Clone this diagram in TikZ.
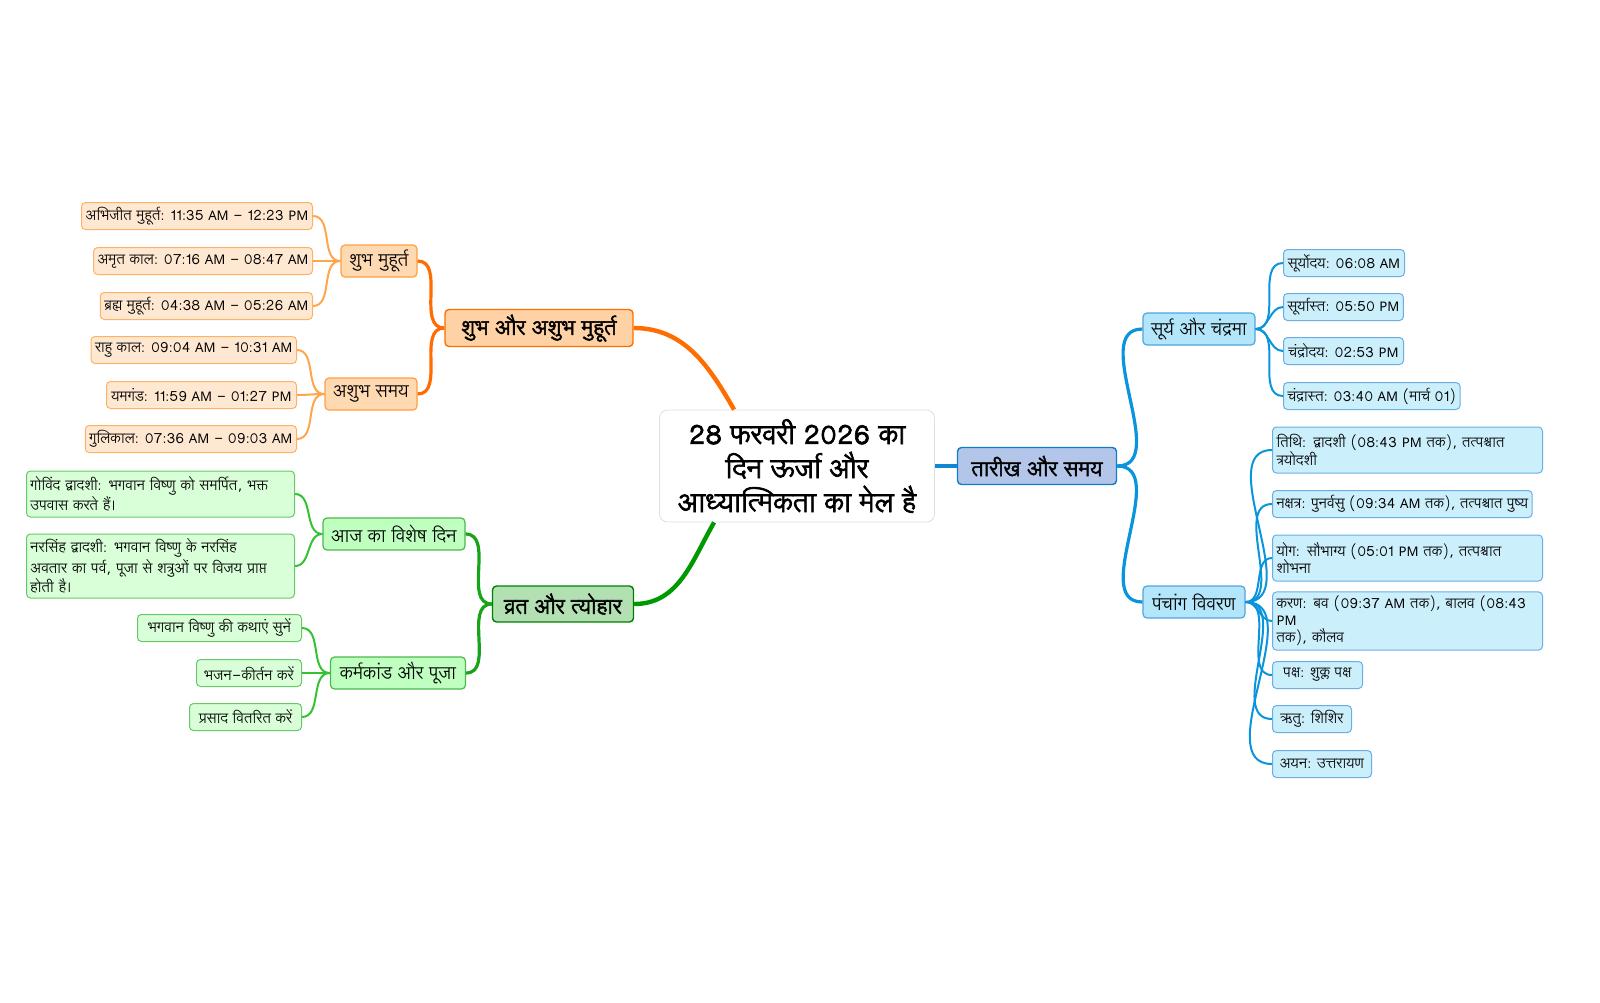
\documentclass[tikz,border=0pt]{standalone}
\usepackage{fontspec}
\IfFontExistsTF{FreeSans.otf}{\setmainfont{FreeSans.otf}[Script=Devanagari,BoldFont=FreeSansBold.otf]}{%
\IfFontExistsTF{Lohit Devanagari}{\setmainfont{Lohit Devanagari}[Script=Devanagari,BoldFont=*,BoldFeatures={FakeBold=2.5}]}{\setmainfont{Noto Sans}}}
\newfontfamily\latf{Noto Sans}[Scale=0.92]
\newcommand{\AM}{{\latf AM}}
\newcommand{\PM}{{\latf PM}}
\begin{document}
\begin{tikzpicture}[x=0.5pt,y=-0.5pt,
 box/.style={rounded corners=2pt,inner sep=2pt,align=left,font=\fontsize{7.2}{8.6}\selectfont},
 oL/.style={box,draw=orange!60!white,fill=orange!18,line width=0.5pt},
 oS/.style={box,draw=orange!75!white,fill=orange!30,font=\fontsize{9}{10}\selectfont,line width=0.6pt},
 oM/.style={box,draw=orange!85!red,fill=orange!35,font=\fontsize{10.5}{12}\bfseries\selectfont,line width=0.7pt},
 gL/.style={box,draw=green!65!black!60,fill=green!15,line width=0.5pt},
 gS/.style={box,draw=green!60!black!70,fill=green!25,font=\fontsize{9}{10}\selectfont,line width=0.6pt},
 gM/.style={box,draw=green!50!black,fill=green!60!black!30,font=\fontsize{10.5}{12}\bfseries\selectfont,line width=0.7pt},
 bL/.style={box,draw=cyan!70!blue!60,fill=cyan!20,line width=0.5pt},
 bS/.style={box,draw=cyan!70!blue!70,fill=cyan!30,font=\fontsize{9}{10}\selectfont,line width=0.6pt},
 bM/.style={box,draw=cyan!60!blue,fill=cyan!50!blue!30,font=\fontsize{10.5}{12}\bfseries\selectfont,line width=0.7pt},
 oc/.style={draw=orange!70,line width=1pt},
 gc/.style={draw=green!70!black!80,line width=1pt},
 bc/.style={draw=cyan!80!blue,line width=1pt}]
\useasboundingbox (0,0) rectangle (1600,1002);
\node[draw=gray!25,fill=white,rounded corners=4pt,minimum width=137.5pt,minimum height=56pt,align=center,font=\fontsize{13.5}{17}\bfseries\selectfont,inner sep=2pt] (root) at (797,466) {28 फरवरी 2026 का\\दिन ऊर्जा और\\आध्यात्मिकता का मेल है};
% orange
\node[oM,minimum width=94pt,minimum height=18.5pt] (om) at (539,328) {शुभ और अशुभ मुहूर्त};
\node[oS,minimum width=38pt,minimum height=16pt] (os1) at (379,261) {शुभ मुहूर्त};
\node[oS,minimum width=46pt,minimum height=16pt] (os2) at (371,394) {अशुभ समय};
\node[oL,anchor=east,minimum width=115.5pt,minimum height=13.5pt] (o1) at (313,216) {अभिजीत मुहूर्त: 11:35 \AM{} - 12:23 \PM};
\node[oL,anchor=east,minimum width=107pt,minimum height=13.5pt] (o2) at (313,261) {अमृत काल: 07:16 \AM{} - 08:47 \AM};
\node[oL,anchor=east,minimum width=102.5pt,minimum height=13.5pt] (o3) at (313,306) {ब्रह्म मुहूर्त: 04:38 \AM{} - 05:26 \AM};
\node[oL,anchor=east,minimum width=101.5pt,minimum height=13.5pt] (o4) at (297,350) {राहु काल: 09:04 \AM{} - 10:31 \AM};
\node[oL,anchor=east,minimum width=95pt,minimum height=13.5pt] (o5) at (297,395) {यमगंड: 11:59 \AM{} - 01:27 \PM};
\node[oL,anchor=east,minimum width=101.5pt,minimum height=13.5pt] (o6) at (297,439) {गुलिकाल: 07:36 \AM{} - 09:03 \AM};
% green
\node[gM,minimum width=70.5pt,minimum height=18pt] (gm) at (563,604) {व्रत और त्योहार};
\node[gS,minimum width=71pt,minimum height=16pt] (gs1) at (394,534) {आज का विशेष दिन};
\node[gS,minimum width=67.5pt,minimum height=16pt] (gs2) at (398,673) {कर्मकांड और पूजा};
\node[gL,anchor=east,text width=130pt,minimum height=23pt] (g1) at (295,494) {गोविंद द्वादशी: भगवान विष्णु को समर्पित, भक्त\\उपवास करते हैं।};
\node[gL,anchor=east,text width=130pt,minimum height=32pt] (g2) at (295,566) {नरसिंह द्वादशी: भगवान विष्णु के नरसिंह\\अवतार का पर्व, पूजा से शत्रुओं पर विजय प्राप्त\\होती है।};
\node[gL,anchor=east,minimum width=82pt,minimum height=13.5pt] (g3) at (302,628) {भगवान विष्णु की कथाएं सुनें};
\node[gL,anchor=east,minimum width=52.5pt,minimum height=13.5pt] (g4) at (302,673) {भजन-कीर्तन करें};
\node[gL,anchor=east,minimum width=56pt,minimum height=13.5pt] (g5) at (302,717) {प्रसाद वितरित करें};
% blue
\node[bM,minimum width=79.5pt,minimum height=18.5pt] (bm) at (1037,466) {तारीख और समय};
\node[bS,minimum width=56pt,minimum height=16pt] (bs1) at (1199,329) {सूर्य और चंद्रमा};
\node[bS,minimum width=51pt,minimum height=16pt] (bs2) at (1194,602) {पंचांग विवरण};
\node[bL,anchor=west,minimum width=60.5pt,minimum height=13.5pt] (b1) at (1283,263) {सूर्योदय: 06:08 \AM};
\node[bL,anchor=west,minimum width=58pt,minimum height=13.5pt] (b2) at (1283,307) {सूर्यास्त: 05:50 \PM};
\node[bL,anchor=west,minimum width=60pt,minimum height=13.5pt] (b3) at (1283,351) {चंद्रोदय: 02:53 \PM};
\node[bL,anchor=west,minimum width=86pt,minimum height=13.5pt] (b4) at (1283,396) {चंद्रास्त: 03:40 \AM{} (मार्च 01)};
\node[bL,anchor=west,text width=131pt,minimum height=23pt] (p1) at (1272,450) {तिथि: द्वादशी (08:43 \PM{} तक), तत्पश्चात\\त्रयोदशी};
\node[bL,anchor=west,minimum width=128.5pt,minimum height=13.5pt] (p2) at (1272,504) {नक्षत्र: पुनर्वसु (09:34 \AM{} तक), तत्पश्चात पुष्य};
\node[bL,anchor=west,text width=131pt,minimum height=23pt] (p3) at (1272,558) {योग: सौभाग्य (05:01 \PM{} तक), तत्पश्चात\\शोभना};
\node[bL,anchor=west,text width=131pt,minimum height=23pt] (p4) at (1272,621) {करण: बव (09:37 \AM{} तक), बालव (08:43 \PM\\तक), कौलव};
\node[bL,anchor=west,minimum width=45pt,minimum height=13.5pt] (p5) at (1272,675) {पक्ष: शुक्ल पक्ष};
\node[bL,anchor=west,minimum width=39.5pt,minimum height=13.5pt] (p6) at (1272,719) {ऋतु: शिशिर};
\node[bL,anchor=west,minimum width=49.5pt,minimum height=13.5pt] (p7) at (1272,764) {अयन: उत्तरायण};
% connectors
\draw[draw=orange!85!red,line width=2.2pt] (root.north west)++(75,0) to[out=120,in=0] (om.east);
\draw[draw=green!60!black,line width=2.2pt] (root.south west)++(55,0) to[out=240,in=0] (gm.east);
\draw[draw=cyan!70!blue,line width=2.2pt] (root.east) -- (bm.west);
\draw[orange!85!red,line width=1.6pt] (om.west) to[out=180,in=0] (os1.east);
\draw[orange!85!red,line width=1.6pt] (om.west) to[out=180,in=0] (os2.east);
\foreach \c in {o1,o2,o3} \draw[oc] (os1.west) to[out=180,in=0] (\c.east);
\foreach \c in {o4,o5,o6} \draw[oc] (os2.west) to[out=180,in=0] (\c.east);
\draw[green!60!black!90,line width=1.6pt] (gm.west) to[out=180,in=0] (gs1.east);
\draw[green!60!black!90,line width=1.6pt] (gm.west) to[out=180,in=0] (gs2.east);
\foreach \c in {g1,g2} \draw[gc] (gs1.west) to[out=180,in=0] (\c.east);
\foreach \c in {g3,g4,g5} \draw[gc] (gs2.west) to[out=180,in=0] (\c.east);
\draw[cyan!80!blue,line width=1.6pt] (bm.east) to[out=0,in=180] (bs1.west);
\draw[cyan!80!blue,line width=1.6pt] (bm.east) to[out=0,in=180] (bs2.west);
\foreach \c in {b1,b2,b3,b4} \draw[bc] (bs1.east) to[out=0,in=180] (\c.west);
\foreach \c in {p1,p2,p3,p4,p5,p6,p7} \draw[bc] (bs2.east) to[out=0,in=180] (\c.west);
\end{tikzpicture}
\end{document}
